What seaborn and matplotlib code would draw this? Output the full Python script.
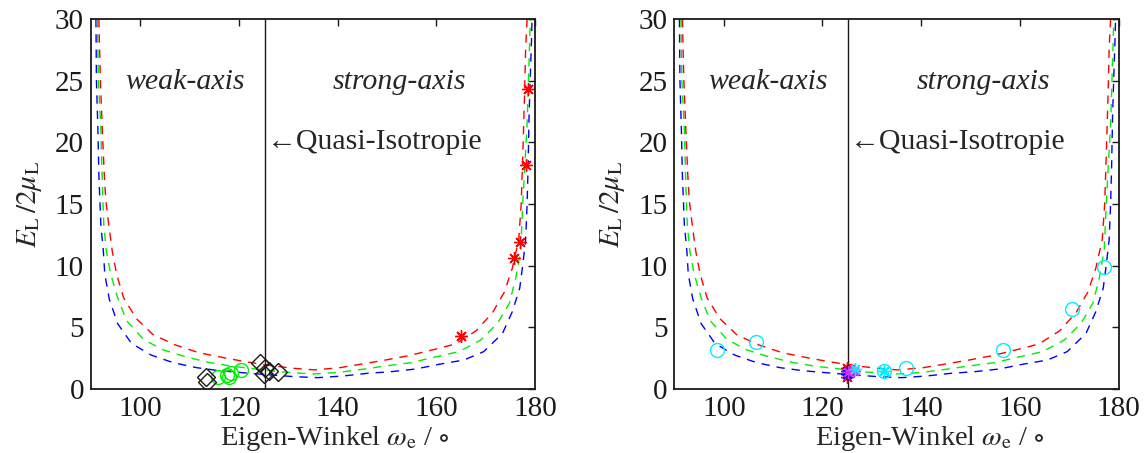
import matplotlib
matplotlib.use("Agg")
import matplotlib.pyplot as plt
import seaborn as sns
import pandas as pd

# ---- curve data ----
red_w = [91.6, 91.9, 92.3, 92.7, 93.0, 93.6, 94.3, 95.2, 96.6, 99.2, 102.6, 107.1, 111.8, 116.5,
         121.2, 125.5, 130.9, 135.3, 140.3, 145.0, 149.7, 154.4, 159.1, 163.9, 168.1, 171.4,
         173.8, 175.4, 176.7, 177.2, 177.6, 177.9, 178.1, 178.4]
red_E = [30, 25, 21, 17.3, 15.3, 13.3, 11.2, 9.3, 7.4, 5.7, 4.4, 3.57, 2.95, 2.57,
         2.22, 1.95, 1.68, 1.55, 1.72, 2.03, 2.35, 2.7, 3.16, 3.65, 4.73, 6.19,
         7.87, 9.79, 12.1, 15.0, 20, 24.1, 27.6, 30]
green_w = [91.3, 91.5, 92.0, 92.25, 92.4, 92.6, 93.1, 94.0, 95.4, 97.2, 100.7, 104.7, 109.1,
           113.8, 118.5, 123.5, 128.0, 132.9, 135.3, 140.3, 145.4, 150.1, 154.8, 159.5, 164.6,
           169.0, 172.4, 174.8, 176.1, 177.1, 177.6, 178.4, 179.0, 179.1]
green_E = [30, 25, 21, 17.3, 15.3, 13.3, 11.2, 9.3, 7.4, 5.55, 4.0, 3.16, 2.62,
           2.16, 1.85, 1.62, 1.4, 1.27, 1.22, 1.35, 1.62, 1.89, 2.13, 2.57, 3.03,
           3.97, 5.33, 6.95, 8.98, 11.27, 15.7, 21.4, 29.3, 30]
blue_w = [91.0, 91.1, 91.4, 91.6, 91.8, 92.0, 92.5, 92.8, 93.7, 95.4, 98.2, 102.2, 106.7, 111.4,
          116.1, 120.8, 126.0, 131.3, 136.0, 141.0, 146.0, 150.7, 155.8, 160.5, 165.6, 169.6,
          173.4, 175.4, 176.9, 177.5, 178.1, 178.4, 178.6, 178.8, 179.1, 179.3, 179.4]
blue_E = [30, 25, 21, 17.3, 15.3, 13.3, 11.2, 9.3, 7.3, 5.3, 3.7, 2.75, 2.13, 1.73,
          1.48, 1.32, 1.15, 1.0, 0.92, 1.05, 1.27, 1.4, 1.62, 2.0, 2.35, 3.03,
          4.5, 6.27, 8.17, 10.0, 12.1, 15.0, 18.0, 22.2, 26.0, 28.4, 30]

# ---- markers, left panel ----
diam_w = [113.4, 113.5, 124.3, 125.3, 125.0, 126.0, 128.0]
diam_E = [0.95, 0.6, 2.1, 1.7, 1.2, 1.5, 1.4]
gcirc_w = [115.8, 117.5, 118.0, 118.3, 120.4]
gcirc_E = [0.95, 1.1, 0.95, 1.3, 1.55]
rstar_w = [164.9, 175.7, 176.9, 178.1, 178.6]
rstar_E = [4.3, 10.6, 11.9, 18.2, 24.3]

# ---- markers, right panel ----
ccirc_w = [98.6, 106.5, 132.4, 137.0, 156.6, 170.6, 177.1]
ccirc_E = [3.16, 3.8, 1.45, 1.68, 3.2, 6.5, 9.9]
r2star_w = [125.0, 125.0]
r2star_E = [1.7, 1.0]
b2star_w = [125.0, 124.9]
b2star_E = [1.2, 1.45]
m2star_w = [125.1, 126.4]
m2star_E = [1.35, 1.5]
c2star_w = [126.6, 132.4]
c2star_E = [1.6, 1.45]

quasi_iso = 125.26

sns.set_theme(style="white")
plt.rcParams['font.family'] = ['Liberation Serif', 'DejaVu Serif']
plt.rcParams['mathtext.fontset'] = 'stix'

fig = plt.figure(figsize=(11.47, 4.53), dpi=100)
ax1 = fig.add_axes([91/1147, 1-389/453, 444/1147, 370/453])
ax2 = fig.add_axes([674.5/1147, 1-389/453, 444/1147, 370/453])

RED, GREEN, BLUE = '#ff0000', '#00ee00', '#0000ff'
CYAN, MAG = '#00eeff', '#cc33ff'
dash = (0, (6, 5))

def markers(ax, w, E, marker, color, ms):
    df = pd.DataFrame({'w': w, 'E': E})
    sns.lineplot(data=df, x='w', y='E', ax=ax, estimator=None, sort=False,
                 linestyle='', marker=marker, markersize=ms,
                 markerfacecolor='none', markeredgecolor=color, markeredgewidth=1.0,
                 color=color)

for ax, xl in ((ax1, 0.55), (ax2, 0.575)):
    for w, E, c in ((blue_w, blue_E, BLUE), (green_w, green_E, GREEN), (red_w, red_E, RED)):
        df = pd.DataFrame({'w': w, 'E': E})
        sns.lineplot(data=df, x='w', y='E', ax=ax, color=c, lw=1.0, linestyle=dash,
                     estimator=None, sort=False)
    ax.axvline(quasi_iso, color='k', lw=1.0)
    ax.set_xlim(90, 180)
    ax.set_ylim(0, 30)
    ax.set_xticks([100, 120, 140, 160, 180])
    ax.set_yticks([0, 5, 10, 15, 20, 25, 30])
    ax.tick_params(direction='in', length=5, width=1, top=True, right=True,
                   labelsize=21, pad=5, colors='k')
    for s in ax.spines.values():
        s.set_color('k')
        s.set_linewidth(1.3)
    ax.set_xlabel(r'Eigen-Winkel $\omega_\mathrm{e}$ / $\circ$', fontsize=20.5)
    ax.xaxis.set_label_coords(xl, -0.095)
    ax.set_ylabel(r'$E_\mathrm{L}\,/2\mu_\mathrm{L}$', fontsize=21, labelpad=8)
    ax.text(109.0, 24.9, 'weak-axis', style='italic', fontsize=21.5, ha='center', va='center')
    ax.text(152.6, 24.9, 'strong-axis', style='italic', fontsize=21.5, ha='center', va='center')
    ax.text(125.6, 20.0, '\u2190Quasi-Isotropie', fontsize=21.5, ha='left', va='center')

markers(ax1, gcirc_w, gcirc_E, 'o', GREEN, 10)
markers(ax1, diam_w, diam_E, 'D', 'k', 9.5)
markers(ax1, rstar_w, rstar_E, (8, 2, 0), RED, 9)

markers(ax2, ccirc_w, ccirc_E, 'o', CYAN, 10)
markers(ax2, r2star_w, r2star_E, (8, 2, 0), RED, 9)
markers(ax2, b2star_w, b2star_E, (8, 2, 0), BLUE, 9)
markers(ax2, m2star_w, m2star_E, (8, 2, 0), MAG, 9)
markers(ax2, c2star_w, c2star_E, (8, 2, 0), CYAN, 9)

for ax in (ax1, ax2):
    ax.set_xlim(90, 180)
    ax.set_ylim(0, 30)

fig.savefig('out.png', dpi=100, facecolor='white')
